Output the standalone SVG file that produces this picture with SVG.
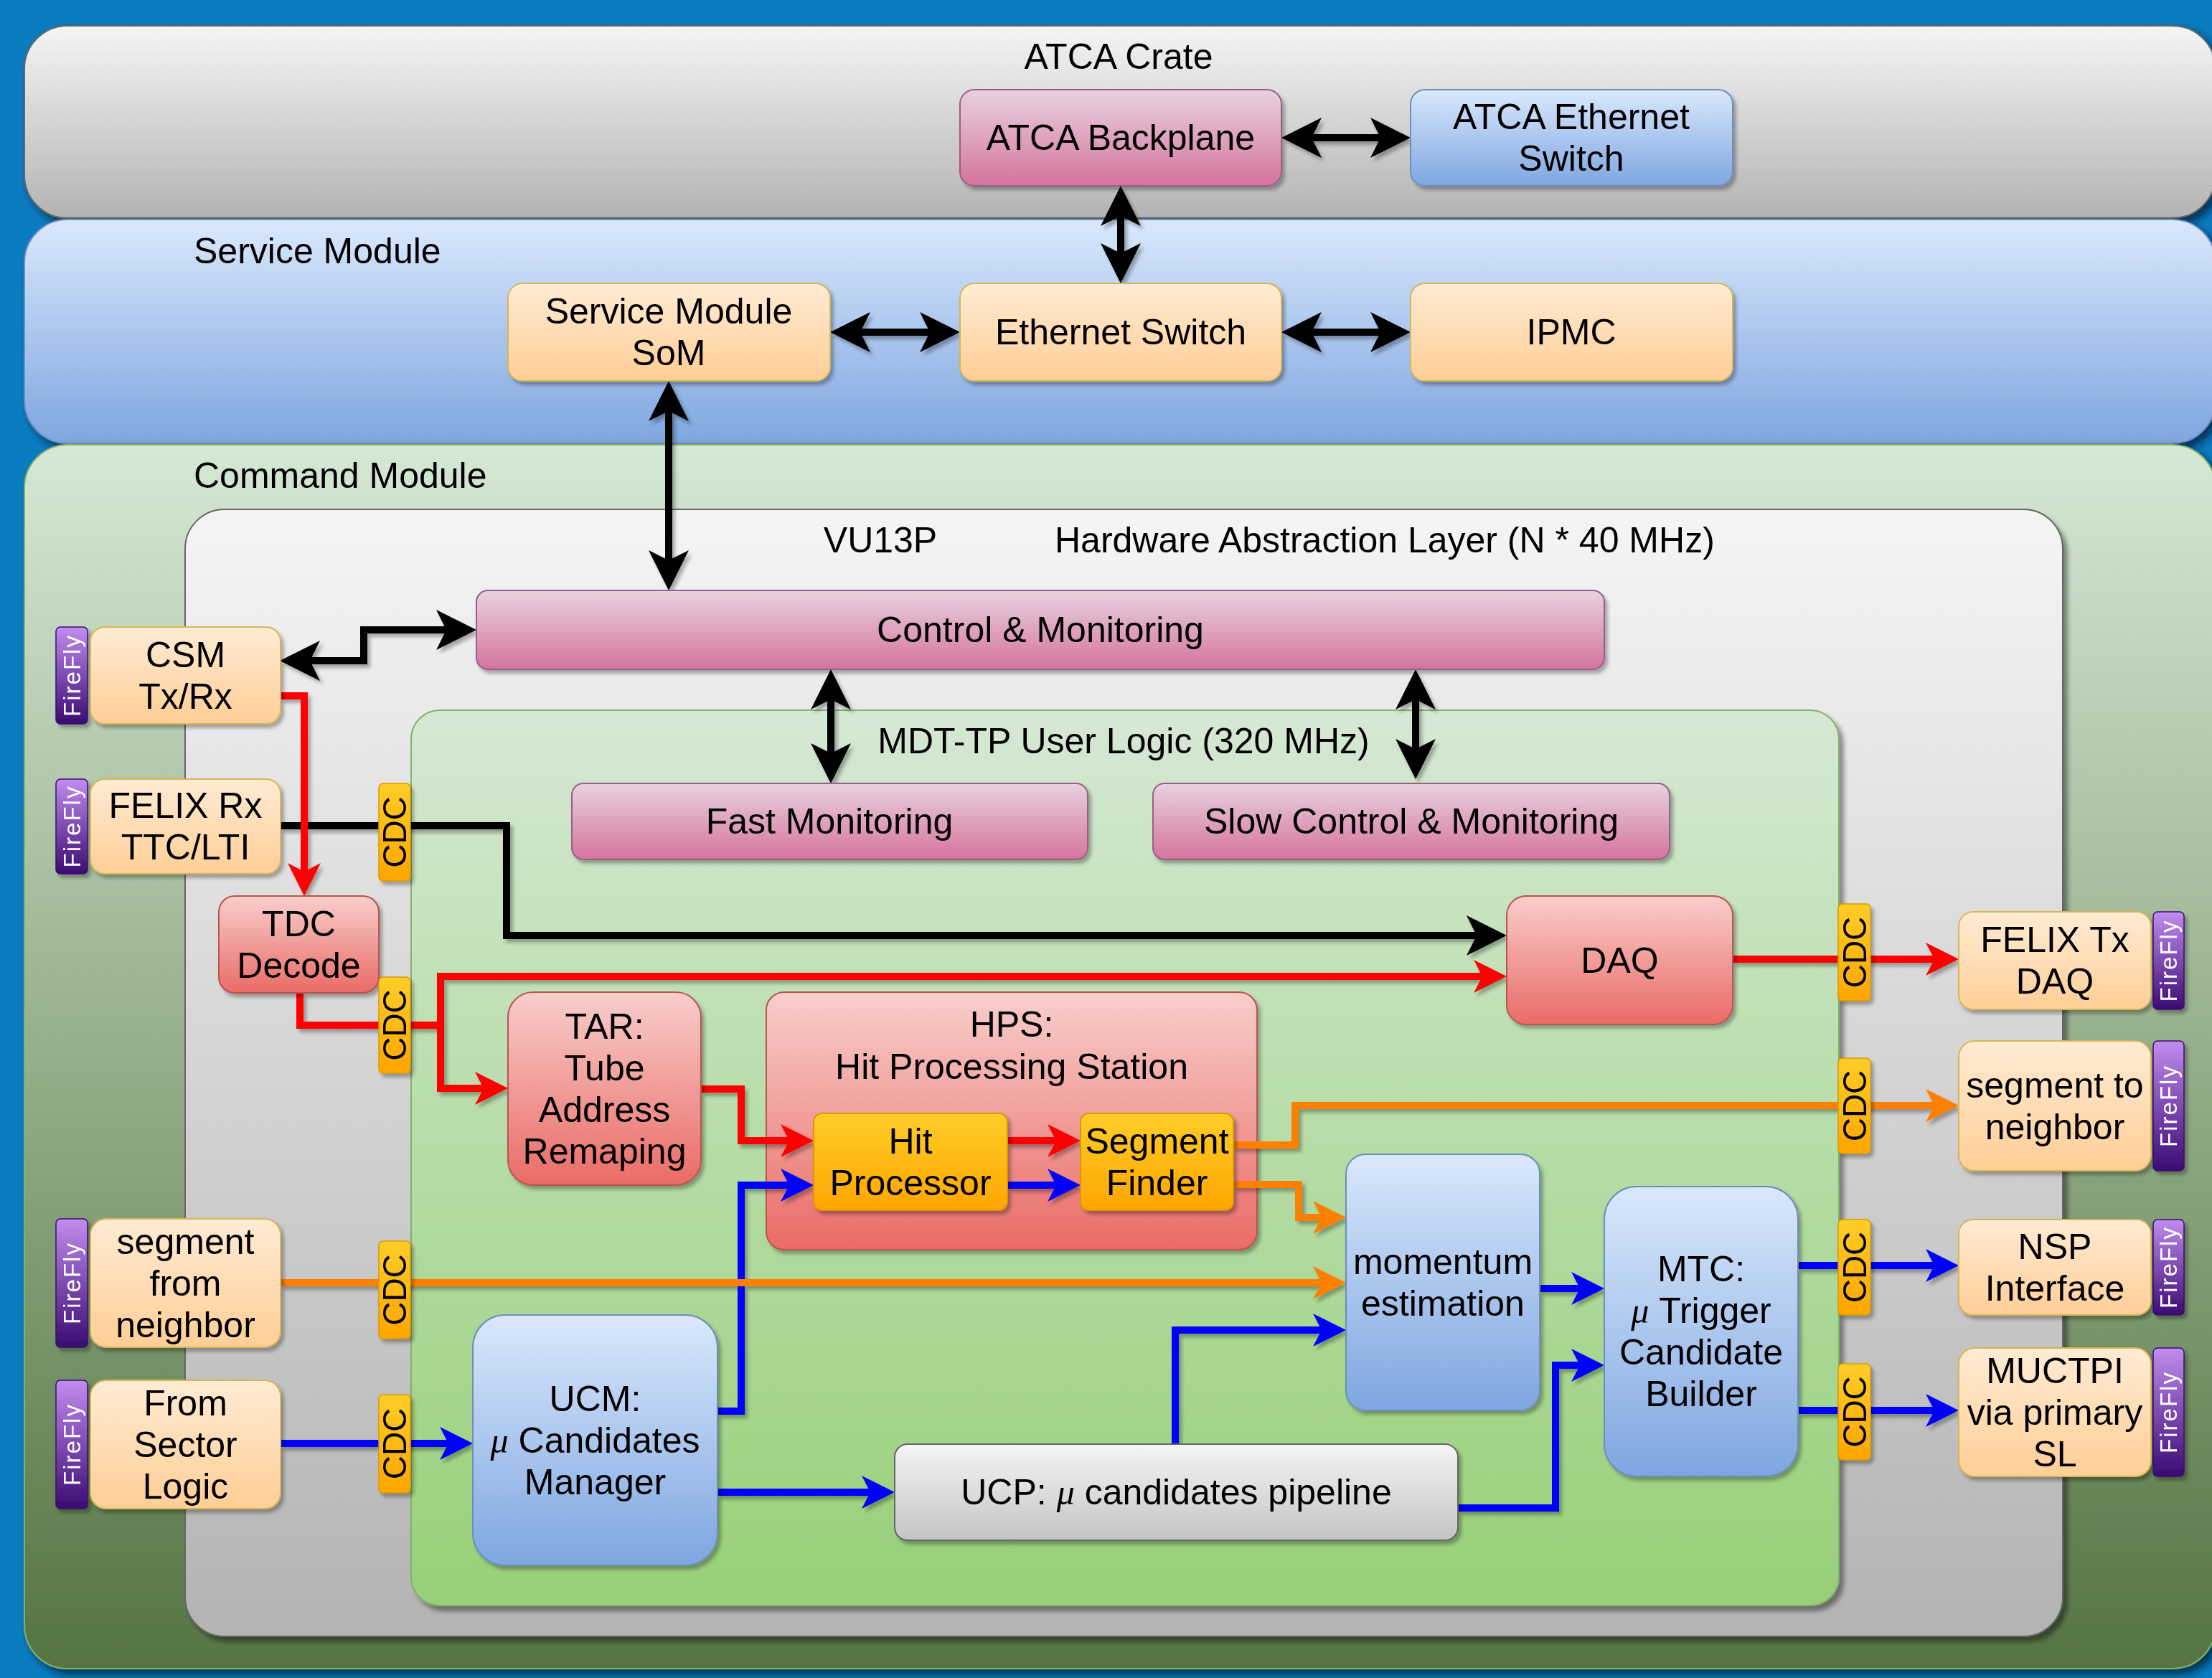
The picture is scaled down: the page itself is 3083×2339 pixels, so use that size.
<svg xmlns="http://www.w3.org/2000/svg" width="3083" height="2339" viewBox="0 0 3083 2339">
<defs>
<style>
.t{font-family:"Liberation Sans",Arial,sans-serif;font-size:50px;fill:#000;text-anchor:middle}
.tl{text-anchor:start}
.mu{font-family:"Liberation Serif","Times New Roman",serif;font-style:italic}
.ff{font-family:"Liberation Sans",Arial,sans-serif;font-size:33px;letter-spacing:2px;fill:#fff;text-anchor:middle;dominant-baseline:central}
.cdct{font-family:"Liberation Sans",Arial,sans-serif;font-size:46px;fill:#000;text-anchor:middle;dominant-baseline:central}
.pk{fill:url(#gPink);stroke:#996185;stroke-width:2}
.bl{fill:url(#gBlue);stroke:#6c8ebf;stroke-width:2}
.pe{fill:url(#gPeach);stroke:#d6b656;stroke-width:2}
.rd{fill:url(#gRed);stroke:#b85450;stroke-width:2}
.ye{fill:url(#gYellow);stroke:#d79b00;stroke-width:2}
.gr{fill:url(#gUcp);stroke:#666;stroke-width:2}
.fy{fill:url(#gPurple);stroke:#3a0d6e;stroke-width:1.5}
.cdc{fill:url(#gYellow);stroke:#d79b00;stroke-width:1.5}
.k{fill:none;stroke:#000;stroke-width:10;stroke-linejoin:miter}
.r{fill:none;stroke:#ff0000;stroke-width:10;stroke-linejoin:miter}
.b{fill:none;stroke:#0000ff;stroke-width:10;stroke-linejoin:miter}
.o{fill:none;stroke:#ff8000;stroke-width:10;stroke-linejoin:miter}
.k2{marker-start:url(#aK);marker-end:url(#aK)}
.k1{marker-end:url(#aK)}
.r1{marker-end:url(#aR)}
.b1{marker-end:url(#aB)}
.o1{marker-end:url(#aO)}
.nd{filter:url(#sh)}
</style>
<linearGradient id="gGray" x1="0" y1="0" x2="0" y2="1"><stop offset="0" stop-color="#f5f5f5"/><stop offset="1" stop-color="#b3b3b3"/></linearGradient>
<linearGradient id="gBand" x1="0" y1="0" x2="0" y2="1"><stop offset="0" stop-color="#dae8fc"/><stop offset="1" stop-color="#7ea6e0"/></linearGradient>
<linearGradient id="gCmd" x1="0" y1="0" x2="0" y2="1"><stop offset="0" stop-color="#d5e8d4"/><stop offset="1" stop-color="#557442"/></linearGradient>
<linearGradient id="gGreen" x1="0" y1="0" x2="0" y2="1"><stop offset="0" stop-color="#d5e8d4"/><stop offset="1" stop-color="#97d077"/></linearGradient>
<linearGradient id="gPink" x1="0" y1="0" x2="0" y2="1"><stop offset="0" stop-color="#e8d2e0"/><stop offset="1" stop-color="#d5739d"/></linearGradient>
<linearGradient id="gBlue" x1="0" y1="0" x2="0" y2="1"><stop offset="0" stop-color="#dae8fc"/><stop offset="1" stop-color="#7ea6e0"/></linearGradient>
<linearGradient id="gPeach" x1="0" y1="0" x2="0" y2="1"><stop offset="0" stop-color="#ffebd4"/><stop offset="1" stop-color="#ffce96"/></linearGradient>
<linearGradient id="gRed" x1="0" y1="0" x2="0" y2="1"><stop offset="0" stop-color="#f8cecc"/><stop offset="1" stop-color="#ea6b66"/></linearGradient>
<linearGradient id="gYellow" x1="0" y1="0" x2="0" y2="1"><stop offset="0" stop-color="#ffcd28"/><stop offset="1" stop-color="#ffa500"/></linearGradient>
<linearGradient id="gUcp" x1="0" y1="0" x2="0" y2="1"><stop offset="0" stop-color="#f5f5f5"/><stop offset="1" stop-color="#c4c4c4"/></linearGradient>
<linearGradient id="gPurple" x1="0" y1="0" x2="0" y2="1"><stop offset="0" stop-color="#c28cf0"/><stop offset="1" stop-color="#3a0b72"/></linearGradient>
<filter id="sh" x="-10%" y="-10%" width="130%" height="130%"><feDropShadow dx="4" dy="5" stdDeviation="2.5" flood-color="#000" flood-opacity="0.3"/></filter>
<filter id="csh" x="-5%" y="-5%" width="115%" height="115%"><feDropShadow dx="6" dy="7" stdDeviation="3" flood-color="#000" flood-opacity="0.4"/></filter>
<filter id="bsh" x="-5%" y="-5%" width="115%" height="120%"><feDropShadow dx="7" dy="7" stdDeviation="6" flood-color="#001a33" flood-opacity="0.75"/></filter>
<marker id="aK" markerUnits="userSpaceOnUse" markerWidth="56" markerHeight="56" viewBox="0 0 56 56" refX="28" refY="28" orient="auto-start-reverse"><path d="M0,0 L56,28 L0,56 L14,28 Z" fill="#000"/></marker>
<marker id="aR" markerUnits="userSpaceOnUse" markerWidth="46" markerHeight="46" viewBox="0 0 46 46" refX="23" refY="23" orient="auto-start-reverse"><path d="M0,0 L46,23 L0,46 L12,23 Z" fill="#ff0000"/></marker>
<marker id="aB" markerUnits="userSpaceOnUse" markerWidth="46" markerHeight="46" viewBox="0 0 46 46" refX="23" refY="23" orient="auto-start-reverse"><path d="M0,0 L46,23 L0,46 L12,23 Z" fill="#0000ff"/></marker>
<marker id="aO" markerUnits="userSpaceOnUse" markerWidth="46" markerHeight="46" viewBox="0 0 46 46" refX="23" refY="23" orient="auto-start-reverse"><path d="M0,0 L46,23 L0,46 L12,23 Z" fill="#ff8000"/></marker>
</defs>

<rect x="0" y="0" width="3083" height="2339" fill="#0b7bc0"/>

<g id="containers">
  <g id="atca-crate">
    <rect x="34" y="36" width="3054" height="268" rx="60" fill="url(#gGray)" stroke="#666" stroke-width="2" filter="url(#bsh)"/>
    <text class="t" x="1559" y="96">ATCA Crate</text>
  </g>
  <g id="service-module">
    <rect x="34" y="306" width="3054" height="312" rx="60" fill="url(#gBand)" stroke="#6c8ebf" stroke-width="2" filter="url(#bsh)"/>
    <text class="t tl" x="270" y="367">Service Module</text>
  </g>
  <g id="command-module">
    <rect x="34" y="620" width="3054" height="1706" rx="60" fill="url(#gCmd)" stroke="#82b366" stroke-width="2" filter="url(#bsh)"/>
    <text class="t tl" x="270" y="680">Command Module</text>
  </g>
  <g id="hal">
    <rect x="258" y="710" width="2617" height="1571" rx="55" fill="url(#gGray)" stroke="#666" stroke-width="2" filter="url(#csh)"/>
    <text class="t" x="1227" y="770">VU13P</text>
    <text class="t tl" x="1470" y="770">Hardware Abstraction Layer (N * 40 MHz)</text>
  </g>
  <g id="mdt-tp">
    <rect x="573" y="990" width="1990" height="1248" rx="40" fill="url(#gGreen)" stroke="#82b366" stroke-width="2" filter="url(#csh)"/>
    <text class="t" x="1566" y="1050">MDT-TP User Logic (320 MHz)</text>
  </g>
  <g id="hps" class="nd">
    <rect class="rd" x="1068" y="1383" width="684" height="359" rx="25"/>
    <text class="t" x="1410" y="1445">HPS:</text>
    <text class="t" x="1410" y="1504">Hit Processing Station</text>
  </g>
</g>

<g id="connectors" filter="url(#sh)">
  <path class="k k2" d="M1814,192 H1938"/>
  <path class="k k2" d="M1562,287 V367"/>
  <path class="k k2" d="M1185,463 H1310"/>
  <path class="k k2" d="M1814,463 H1938"/>
  <path class="k k2" d="M932,559 V795"/>
  <path class="k k2" d="M418,921 H507 V878 H636"/>
  <path class="k k2" d="M1158,961 V1064"/>
  <path class="k k2" d="M1973,961 V1058"/>
  <path class="k k1" d="M391,1151 H706 V1304 H2072"/>
  <path class="r r1" d="M391,970 H424 V1226"/>
  <path class="r r1" d="M418,1384 V1429 H614 V1361 H2077"/>
  <path class="r r1" d="M614,1429 V1517 H685"/>
  <path class="r r1" d="M977,1518 H1033 V1590 H1111"/>
  <path class="r r1" d="M1404,1590 H1483"/>
  <path class="r r1" d="M2415,1337 H2707"/>
  <path class="b b1" d="M391,2012 H636"/>
  <path class="b b1" d="M1000,1967 H1033 V1652 H1111"/>
  <path class="b b1" d="M1404,1652 H1483"/>
  <path class="b b1" d="M1000,2080 H1224"/>
  <path class="b b1" d="M1638,2013 V1854 H1853"/>
  <path class="b b1" d="M2146,1796 H2213"/>
  <path class="b b1" d="M2032,2102 H2168 V1903 H2213"/>
  <path class="b b1" d="M2506,1764 H2707"/>
  <path class="b b1" d="M2506,1966 H2707"/>
  <path class="o o1" d="M391,1788 H1853"/>
  <path class="o o1" d="M1719,1596 H1805 V1541 H2707"/>
  <path class="o o1" d="M1719,1651 H1810 V1697 H1853"/>
</g>

<g id="nodes">
  <g id="atca-backplane" class="nd"><rect class="pk" x="1338" y="125" width="448" height="134" rx="20"/><text class="t" x="1562" y="209">ATCA Backplane</text></g>
  <g id="atca-ethernet-switch" class="nd"><rect class="bl" x="1966" y="125" width="449" height="134" rx="20"/><text class="t" x="2190" y="180">ATCA Ethernet</text><text class="t" x="2190" y="238">Switch</text></g>
  <g id="som" class="nd"><rect class="pe" x="708" y="395" width="449" height="136" rx="20"/><text class="t" x="932" y="451">Service Module</text><text class="t" x="932" y="509">SoM</text></g>
  <g id="ethernet-switch" class="nd"><rect class="pe" x="1338" y="395" width="448" height="136" rx="20"/><text class="t" x="1562" y="480">Ethernet Switch</text></g>
  <g id="ipmc" class="nd"><rect class="pe" x="1966" y="395" width="449" height="136" rx="20"/><text class="t" x="2190" y="480">IPMC</text></g>
  <g id="control-monitoring" class="nd"><rect class="pk" x="664" y="823" width="1572" height="110" rx="16"/><text class="t" x="1450" y="895">Control &amp; Monitoring</text></g>
  <g id="fast-monitoring" class="nd"><rect class="pk" x="797" y="1092" width="719" height="106" rx="16"/><text class="t" x="1156" y="1162">Fast Monitoring</text></g>
  <g id="slow-control" class="nd"><rect class="pk" x="1607" y="1092" width="720" height="106" rx="16"/><text class="t" x="1967" y="1162">Slow Control &amp; Monitoring</text></g>

  <g id="csm" class="nd"><rect class="fy" x="78" y="874" width="44" height="135" rx="6"/><text class="ff" transform="translate(100,941.5) rotate(-90)">FireFly</text><rect class="pe" x="126" y="874" width="265" height="135" rx="20"/><text class="t" x="258.5" y="929.5">CSM</text><text class="t" x="258.5" y="987.5">Tx/Rx</text></g>
  <g id="felix-rx" class="nd"><rect class="fy" x="78" y="1086" width="44" height="132" rx="6"/><text class="ff" transform="translate(100,1152) rotate(-90)">FireFly</text><rect class="pe" x="126" y="1086" width="265" height="132" rx="20"/><text class="t" x="258.5" y="1140">FELIX Rx</text><text class="t" x="258.5" y="1198">TTC/LTI</text></g>
  <g id="seg-from-neighbor" class="nd"><rect class="fy" x="78" y="1699" width="44" height="179" rx="6"/><text class="ff" transform="translate(100,1788.5) rotate(-90)">FireFly</text><rect class="pe" x="126" y="1699" width="265" height="179" rx="22"/><text class="t" x="258.5" y="1747.5">segment</text><text class="t" x="258.5" y="1805.5">from</text><text class="t" x="258.5" y="1863.5">neighbor</text></g>
  <g id="sector-logic" class="nd"><rect class="fy" x="78" y="1924" width="44" height="179" rx="6"/><text class="ff" transform="translate(100,2013.5) rotate(-90)">FireFly</text><rect class="pe" x="126" y="1924" width="265" height="179" rx="22"/><text class="t" x="258.5" y="1972.5">From</text><text class="t" x="258.5" y="2030.5">Sector</text><text class="t" x="258.5" y="2088.5">Logic</text></g>

  <g id="tdc-decode" class="nd"><rect class="rd" x="305" y="1249" width="223" height="135" rx="22"/><text class="t" x="416.5" y="1304.5">TDC</text><text class="t" x="416.5" y="1362.5">Decode</text></g>
  <g id="tar" class="nd"><rect class="rd" x="708" y="1383" width="269" height="269" rx="35"/><text class="t" x="842.5" y="1447.5">TAR:</text><text class="t" x="842.5" y="1505.5">Tube</text><text class="t" x="842.5" y="1563.5">Address</text><text class="t" x="842.5" y="1621.5">Remaping</text></g>
  <g id="hit-processor" class="nd"><rect class="ye" x="1134" y="1552" width="270" height="135" rx="12"/><text class="t" x="1269" y="1607.5">Hit</text><text class="t" x="1269" y="1665.5">Processor</text></g>
  <g id="segment-finder" class="nd"><rect class="ye" x="1506" y="1552" width="213" height="135" rx="12"/><text class="t" x="1612.5" y="1607.5">Segment</text><text class="t" x="1612.5" y="1665.5">Finder</text></g>
  <g id="daq" class="nd"><rect class="rd" x="2100" y="1249" width="315" height="179" rx="27"/><text class="t" x="2257.5" y="1355.5">DAQ</text></g>
  <g id="momentum" class="nd"><rect class="bl" x="1876" y="1609" width="270" height="357" rx="27"/><text class="t" x="2011" y="1775.5">momentum</text><text class="t" x="2011" y="1833.5">estimation</text></g>
  <g id="mtc" class="nd"><rect class="bl" x="2236" y="1654" width="270" height="404" rx="45"/><text class="t" x="2371" y="1786">MTC:</text><text class="t" x="2371" y="1844"><tspan class="mu">μ</tspan> Trigger</text><text class="t" x="2371" y="1902">Candidate</text><text class="t" x="2371" y="1960">Builder</text></g>
  <g id="ucm" class="nd"><rect class="bl" x="659" y="1833" width="341" height="349" rx="45"/><text class="t" x="829.5" y="1966.5">UCM:</text><text class="t" x="829.5" y="2024.5"><tspan class="mu">μ</tspan> Candidates</text><text class="t" x="829.5" y="2082.5">Manager</text></g>
  <g id="ucp" class="nd"><rect class="gr" x="1247" y="2013" width="785" height="134" rx="18"/><text class="t" x="1639.5" y="2097">UCP: <tspan class="mu">μ</tspan> candidates pipeline</text></g>

  <g id="felix-tx" class="nd"><rect class="pe" x="2730" y="1271" width="268" height="136" rx="20"/><text class="t" x="2864" y="1327">FELIX Tx</text><text class="t" x="2864" y="1385">DAQ</text><rect class="fy" x="3001" y="1271" width="43" height="136" rx="6"/><text class="ff" transform="translate(3022.5,1339) rotate(-90)">FireFly</text></g>
  <g id="seg-to-neighbor" class="nd"><rect class="pe" x="2730" y="1451" width="268" height="181" rx="22"/><text class="t" x="2864" y="1529.5">segment to</text><text class="t" x="2864" y="1587.5">neighbor</text><rect class="fy" x="3001" y="1451" width="43" height="181" rx="6"/><text class="ff" transform="translate(3022.5,1541.5) rotate(-90)">FireFly</text></g>
  <g id="nsp" class="nd"><rect class="pe" x="2730" y="1700" width="268" height="133" rx="20"/><text class="t" x="2864" y="1754.5">NSP</text><text class="t" x="2864" y="1812.5">Interface</text><rect class="fy" x="3001" y="1700" width="43" height="133" rx="6"/><text class="ff" transform="translate(3022.5,1766.5) rotate(-90)">FireFly</text></g>
  <g id="muctpi" class="nd"><rect class="pe" x="2730" y="1879" width="268" height="179" rx="22"/><text class="t" x="2864" y="1927.5">MUCTPI</text><text class="t" x="2864" y="1985.5">via primary</text><text class="t" x="2864" y="2043.5">SL</text><rect class="fy" x="3001" y="1879" width="43" height="179" rx="6"/><text class="ff" transform="translate(3022.5,1968.5) rotate(-90)">FireFly</text></g>

  <g id="cdc-felix-rx" class="nd"><rect class="cdc" x="528" y="1092" width="44" height="136" rx="6"/><text class="cdct" transform="translate(550,1160) rotate(-90)">CDC</text></g>
  <g id="cdc-tdc" class="nd"><rect class="cdc" x="528" y="1362" width="44" height="134" rx="6"/><text class="cdct" transform="translate(550,1429) rotate(-90)">CDC</text></g>
  <g id="cdc-seg-from" class="nd"><rect class="cdc" x="528" y="1730" width="44" height="136" rx="6"/><text class="cdct" transform="translate(550,1798) rotate(-90)">CDC</text></g>
  <g id="cdc-sector" class="nd"><rect class="cdc" x="528" y="1944" width="44" height="137" rx="6"/><text class="cdct" transform="translate(550,2012.5) rotate(-90)">CDC</text></g>
  <g id="cdc-daq" class="nd"><rect class="cdc" x="2562" y="1260" width="45" height="135" rx="6"/><text class="cdct" transform="translate(2584.5,1327.5) rotate(-90)">CDC</text></g>
  <g id="cdc-seg-to" class="nd"><rect class="cdc" x="2562" y="1475" width="45" height="133" rx="6"/><text class="cdct" transform="translate(2584.5,1541.5) rotate(-90)">CDC</text></g>
  <g id="cdc-nsp" class="nd"><rect class="cdc" x="2562" y="1700" width="45" height="133" rx="6"/><text class="cdct" transform="translate(2584.5,1766.5) rotate(-90)">CDC</text></g>
  <g id="cdc-muctpi" class="nd"><rect class="cdc" x="2562" y="1901" width="45" height="134" rx="6"/><text class="cdct" transform="translate(2584.5,1968) rotate(-90)">CDC</text></g>
</g>
</svg>
